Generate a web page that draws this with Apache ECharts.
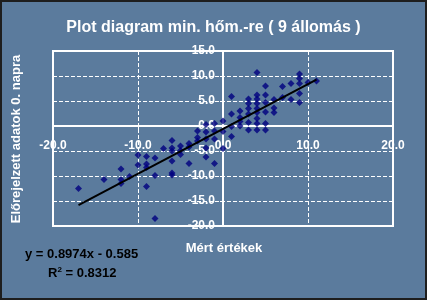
<!DOCTYPE html>
<html>
<head>
<meta charset="utf-8">
<script src="https://cdn.jsdelivr.net/npm/echarts@6/dist/echarts.min.js"></script>
<style>
html,body{margin:0;padding:0;background:#5b7b9d;}
#c{width:427px;height:300px;}
</style>
</head>
<body>
<div id="c"></div>
<script>
const measured = [
  -17,
  -14,
  -12, -12, -12,
  -11,
  -10, -10,
  -9, -9, -9, -9,
  -8, -8, -8,
  -7,
  -6, -6, -6, -6, -6, -6,
  -5, -5, -5,
  -4, -4, -4,
  -3, -3, -3,
  -2, -2, -2, -2, -2,
  -1, -1, -1, -1,
  0, 0, 0,
  1, 1, 1, 1,
  2, 2, 2, 2,
  3, 3, 3, 3, 3, 3,
  4, 4, 4, 4, 4, 4, 4, 4, 4,
  5, 5, 5, 5, 5, 5,
  6, 6, 6,
  7, 7,
  8, 8,
  9, 9, 9, 9, 9,
  10,
  11
];
const forecast = [
  -12.5,
  -10.7,
  -8.6, -10.7, -11.5,
  -10.1,
  -5.8, -7.8,
  -6.1, -7.6, -8.3, -12.1,
  -6.4, -9.9, -18.5,
  -4.5,
  -2.9, -4.4, -5.0, -7.0, -9.4, -9.8,
  -4.0, -4.9, -5.7,
  -3.5, -4.2, -7.5,
  -1.0, -2.3, -3.0,
  0.3, -1.2, -2.6, -4.4, -6.2,
  0.5, -1.0, -2.6, -7.5,
  1.0, -1.1, -4.5,
  5.9, 2.4, -0.1, -2.1,
  3.0, 1.7, 0.9, 0.0,
  5.4, 4.5, 3.5, 2.4, 0.7, -0.8,
  10.7, 6.2, 5.4, 4.5, 3.5, 2.7, 1.5, 0.5, -0.8,
  8.0, 6.2, 4.7, 2.8, 0.5, -0.8,
  5.3, 3.6, 2.7,
  7.9, 5.7,
  8.5, 5.3,
  10.4, 9.5, 8.5, 6.5, 4.7,
  8.7,
  9.0
];
// Linear trendline coefficients as shown on the chart
const trendSlope = 0.8974;
const trendIntercept = -0.585;
const trendText = ['y = 0.8974x - 0.585', 'R', '2', ' = 0.8312'];
const titleText = 'Plot diagram min. hőm.-re ( 9 állomás )';
const xName = 'Mért értékek';
const yName = 'Előrejelzett adatok 0. napra';

const points = measured.map((x, i) => [x, forecast[i]]);
const xMin = Math.min(...measured), xMax = Math.max(...measured);
const trend = [[xMin, trendSlope * xMin + trendIntercept], [xMax, trendSlope * xMax + trendIntercept]];

const FONT = '"Liberation Sans", Arial, sans-serif';
const chart = echarts.init(document.getElementById('c'), null, {renderer: 'canvas'});
// grid: left 53, right 393 (width 340), top 51, bottom 226 (height 175)
chart.setOption({
  backgroundColor: '#5b7b9d',
  animation: false,
  title: {
    text: titleText, left: 'center', top: 15,
    textStyle: {color: '#fff', fontFamily: FONT, fontWeight: 'bold', fontSize: 16}
  },
  grid: {left: 53, right: 34, top: 51, bottom: 74, show: true, borderColor: '#fff', borderWidth: 2, backgroundColor: 'transparent'},
  xAxis: {
    type: 'value', min: -20, max: 20, interval: 10, position: 'bottom', offset: -100,
    axisLine: {onZero: false, lineStyle: {color: '#fff', width: 2}},
    axisTick: {show: true, length: 3, lineStyle: {color: '#fff', width: 1}},
    axisLabel: {color: '#fff', fontFamily: FONT, fontWeight: 'bold', fontSize: 12, margin: 14,
      formatter: v => v.toFixed(1)},
    splitLine: {show: true, lineStyle: {color: '#fff', width: 1, type: [4, 2]}}
  },
  yAxis: {
    type: 'value', min: -20, max: 15, interval: 5, position: 'left', offset: -170,
    axisLine: {onZero: false, lineStyle: {color: '#fff', width: 2}},
    axisTick: {show: true, length: 3, lineStyle: {color: '#fff', width: 1}},
    axisLabel: {color: '#fff', fontFamily: FONT, fontWeight: 'bold', fontSize: 12, margin: 8,
      formatter: v => v.toFixed(1)},
    splitLine: {show: true, lineStyle: {color: '#fff', width: 1, type: [4, 2]}}
  },
  series: [
    {type: 'scatter', data: points, symbol: 'diamond', symbolSize: 7,
     itemStyle: {color: '#000080'}, z: 3},
    {type: 'line', data: trend, symbol: 'none', lineStyle: {color: '#000', width: 2}, z: 4}
  ],
  graphic: [
    {type: 'text', x: 16, y: 139, rotation: Math.PI / 2,
     style: {text: yName, fill: '#fff', font: 'bold 13px ' + FONT, align: 'center', verticalAlign: 'middle'}},
    {type: 'text', x: 224, y: 248,
     style: {text: xName, fill: '#fff', font: 'bold 13px ' + FONT, align: 'center', verticalAlign: 'middle'}},
    {type: 'text', x: 25, y: 254,
     style: {text: trendText[0], fill: '#000', font: 'bold 13px ' + FONT, align: 'left', verticalAlign: 'middle'}},
    {type: 'text', x: 48, y: 273,
     style: {text: '{a|' + trendText[1] + '}{s|' + trendText[2] + '}{a|' + trendText[3] + '}', fill: '#000', font: 'bold 13px ' + FONT,
       align: 'left', verticalAlign: 'middle',
       rich: {a: {font: 'bold 13px ' + FONT, fill: '#000'}, s: {font: 'bold 8px ' + FONT, fill: '#000', verticalAlign: 'top', padding: [0,0,6,0]}}}},
    {type: 'rect', shape: {x: 1, y: 1, width: 425, height: 298}, style: {fill: 'none', stroke: '#1e1e1e', lineWidth: 2}, silent: true}
  ]
});
</script>
</body>
</html>
